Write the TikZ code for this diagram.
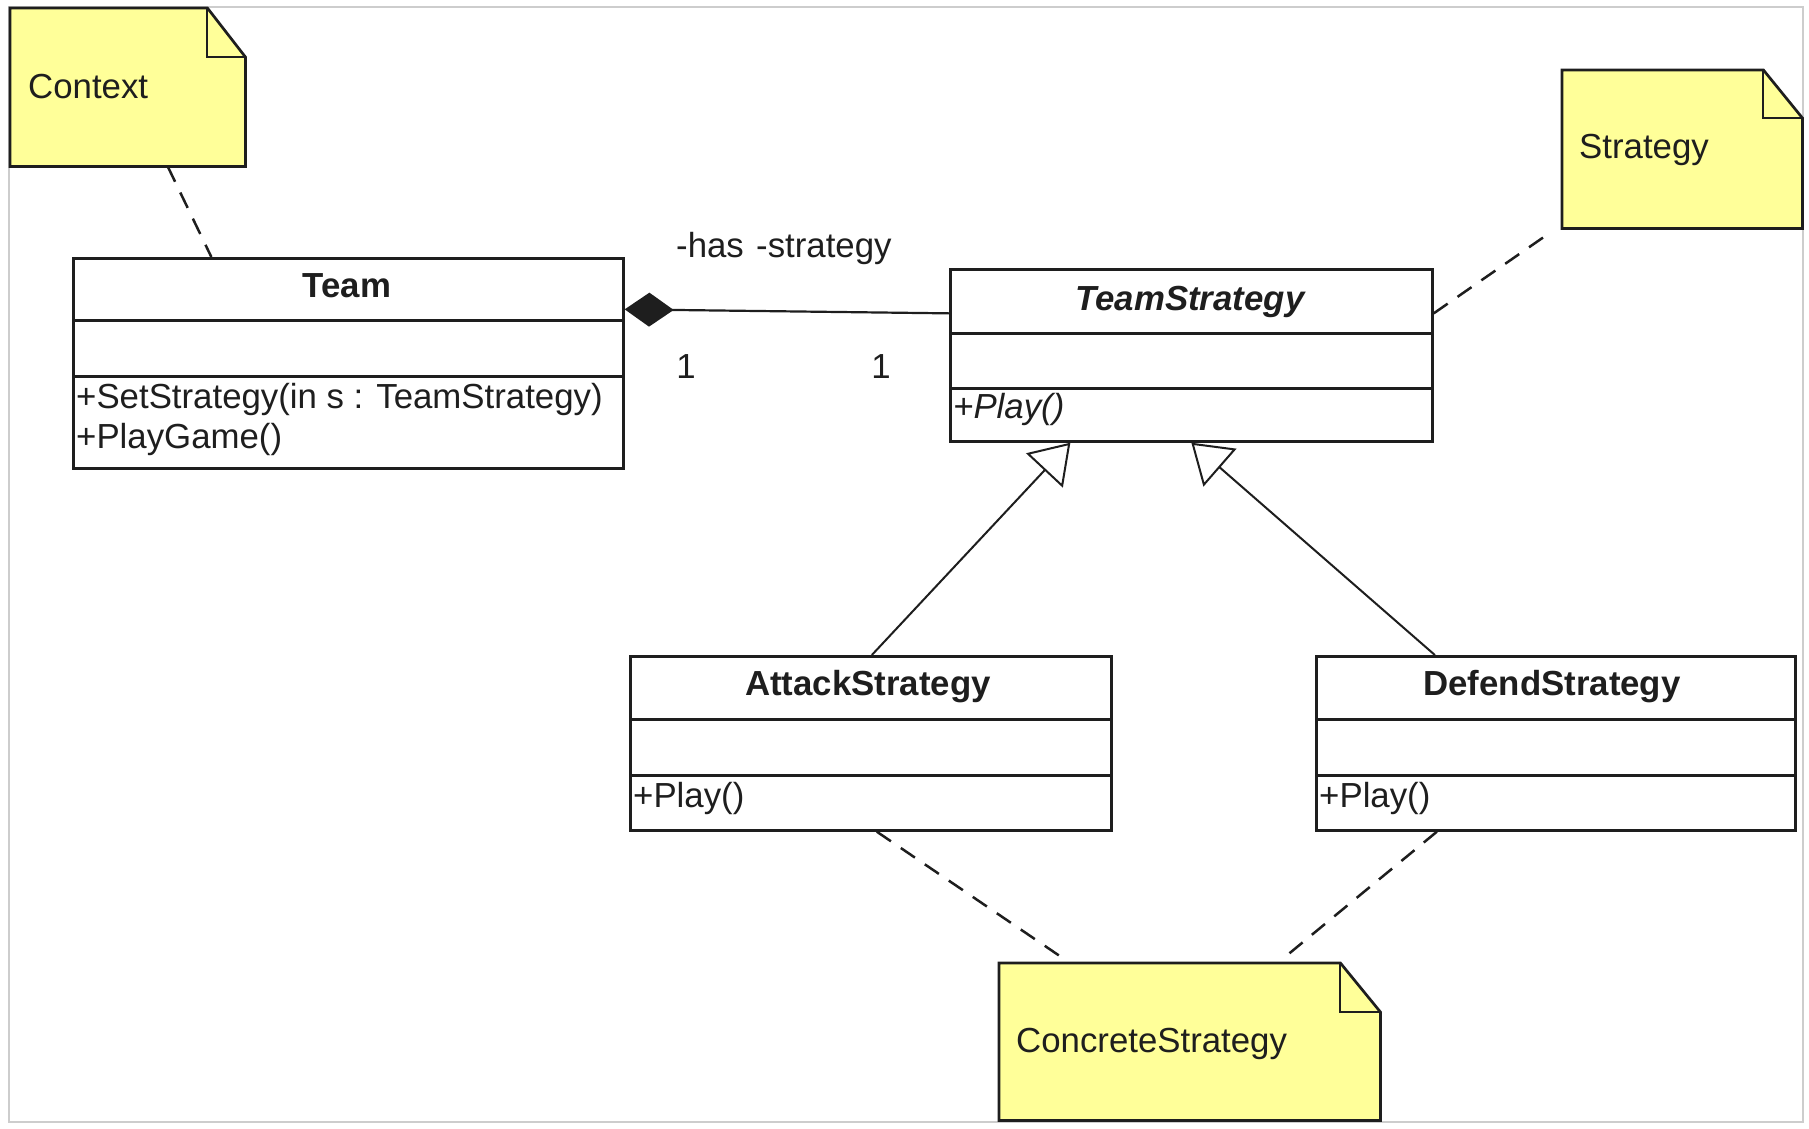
\documentclass[tikz,border=0pt]{standalone}
\usepackage{fontspec}
\setmainfont{Liberation Sans}
\usetikzlibrary{arrows.meta}
\definecolor{notey}{RGB}{255,255,153}
\definecolor{ink}{RGB}{30,30,30}
\definecolor{framegrey}{RGB}{205,205,205}
\newcommand\drawnotefold[3]{%
  \draw[noteline] (#1.north west) -- ([xshift=-#2]#1.north east) -- ([yshift=-#3]#1.north east) -- (#1.south east) -- (#1.south west) -- cycle;
  \draw[foldline] ([xshift=-#2]#1.north east) -- ([xshift=-#2,yshift=-#3]#1.north east) -- ([yshift=-#3]#1.north east);}
\begin{document}
\begin{tikzpicture}[x=1pt,y=-1pt,
  every node/.style={font=\fontsize{34.8pt}{41pt}\selectfont, text=ink},
  boxpart/.style={draw=ink, line width=2.7pt, fill=white, inner sep=0pt, anchor=north west},
  txt/.style={inner sep=0pt},
  notebox/.style={inner sep=0pt, anchor=north west},
  noteline/.style={draw=ink, fill=notey, line width=2.7pt, line join=miter},
  foldline/.style={draw=ink, line width=2pt},
  gen/.style={draw=ink, line width=2pt, -{Triangle[open, length=38pt, width=50pt, line width=2pt]}},
  comp/.style={draw=ink, line width=2.2pt, {Diamond[length=49pt, width=34pt]}-},
  anchorline/.style={draw=ink, line width=2.5pt, dash pattern=on 17pt off 12pt}
]
\useasboundingbox (0,0) rectangle (1809,1128);
\draw[framegrey, line width=1.5pt] (9,7) rectangle (1803,1122);

% Team
\node[boxpart, minimum width=550pt, minimum height=62pt] (teamT) at (72,257) {};
\node[boxpart, minimum width=550pt, minimum height=56pt] (teamA) at (72,319) {};
\node[boxpart, minimum width=550pt, minimum height=92pt] (teamO) at (72,375) {};
\node[txt, anchor=base] (teamN) at (347,297) {\bfseries Team};
\node[txt, anchor=base west] (teamOp1) at (76,408) {+SetStrategy(in s : TeamStrategy)};
\node[txt, anchor=base west] (teamOp2) at (76,448) {+PlayGame()};

% TeamStrategy
\node[boxpart, minimum width=482pt, minimum height=64pt] (tsT) at (949,268) {};
\node[boxpart, minimum width=482pt, minimum height=55pt] (tsA) at (949,332) {};
\node[boxpart, minimum width=482pt, minimum height=53pt] (tsO) at (949,387) {};
\node[txt, anchor=base] (tsN) at (1190,310) {\bfseries\itshape TeamStrategy};
\node[txt, anchor=base west] (tsOp) at (953,418) {\itshape +Play()};

% AttackStrategy
\node[boxpart, minimum width=481pt, minimum height=63pt] (atT) at (629,655) {};
\node[boxpart, minimum width=481pt, minimum height=56pt] (atA) at (629,718) {};
\node[boxpart, minimum width=481pt, minimum height=55pt] (atO) at (629,774) {};
\node[txt, anchor=base] (atN) at (868,695) {\bfseries AttackStrategy};
\node[txt, anchor=base west] (atOp) at (633,807) {+Play()};

% DefendStrategy
\node[boxpart, minimum width=479pt, minimum height=63pt] (dfT) at (1315,655) {};
\node[boxpart, minimum width=479pt, minimum height=56pt] (dfA) at (1315,718) {};
\node[boxpart, minimum width=479pt, minimum height=55pt] (dfO) at (1315,774) {};
\node[txt, anchor=base] (dfN) at (1552,695) {\bfseries DefendStrategy};
\node[txt, anchor=base west] (dfOp) at (1319,807) {+Play()};

% Notes
\node[notebox, minimum width=235pt, minimum height=158pt] (ctx) at (10,8) {};
\drawnotefold{ctx}{38pt}{49pt}
\node[txt, anchor=base west] (ctxT) at (28,98) {Context};

\node[notebox, minimum width=240pt, minimum height=158pt] (strn) at (1562,70) {};
\drawnotefold{strn}{39pt}{48pt}
\node[txt, anchor=base west] (strT) at (1579,158) {Strategy};

\node[notebox, minimum width=381pt, minimum height=157pt] (con) at (999,963) {};
\drawnotefold{con}{40pt}{49pt}
\node[txt, anchor=base west] (conT) at (1016,1052) {ConcreteStrategy};

% Composition
\draw[comp] ([yshift=-20pt]teamT.east) -- ([yshift=-12pt]tsT.west);
\node[txt, anchor=base west] (roleA) at (676,257) {-has};
\node[txt, anchor=base west] (roleB) at (756,257) {-strategy};
\node[txt, anchor=base] (multA) at (686,378) {1};
\node[txt, anchor=base] (multB) at (881,378) {1};

% Generalizations
\draw[gen] ([xshift=1pt]atT.north) -- ([xshift=-121pt]tsO.south);
\draw[gen] ([xshift=-121pt]dfT.north) -- ([xshift=0pt]tsO.south);

% Note anchors
\draw[anchorline] ([xshift=40pt]ctx.south) -- ([xshift=-137pt]teamT.north);
\draw[anchorline] ([yshift=-12pt]tsT.east) -- ([xshift=-13pt,yshift=-5pt]strn.south west);
\draw[anchorline] ([xshift=6pt]atO.south) -- ([xshift=-127pt,yshift=5pt]con.north);
\draw[anchorline] ([xshift=-119pt]dfO.south) -- ([xshift=94pt,yshift=5pt]con.north);
\end{tikzpicture}
\end{document}
